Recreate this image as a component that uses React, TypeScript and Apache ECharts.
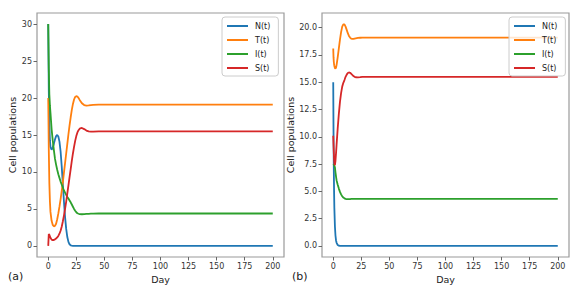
import React, { useEffect, useRef } from "react";
import * as echarts from "echarts";

// Panel (a)
const daysA = [0, 0.5, 1, 1.5, 2, 3, 4, 5, 6, 7, 8, 9, 10, 11, 12, 13, 14, 15, 16, 17, 18, 19, 20, 21, 22, 23, 24, 25, 26, 27, 28, 30, 32, 34, 36, 38, 40, 45, 50, 60, 80, 100, 150, 200];
const nA = [30, 21, 16.5, 14.3, 13.4, 13.0, 13.3, 13.8, 14.4, 14.85, 15.0, 14.8, 14.1, 12.8, 10.8, 8.4, 6.0, 3.9, 2.3, 1.2, 0.55, 0.22, 0.08, 0.03, 0.01, 0, 0, 0, 0, 0, 0, 0, 0, 0, 0, 0, 0, 0, 0, 0, 0, 0, 0, 0];
const tA = [20, 13, 8.5, 6, 4.6, 3.4, 2.85, 2.65, 2.7, 3.0, 3.6, 4.4, 5.3, 6.3, 7.4, 8.6, 9.9, 11.2, 12.5, 13.8, 15.1, 16.3, 17.4, 18.4, 19.2, 19.8, 20.15, 20.25, 20.2, 20.0, 19.75, 19.3, 19.05, 18.98, 19.0, 19.05, 19.08, 19.1, 19.1, 19.1, 19.1, 19.1, 19.1, 19.1];
const iA = [30, 24, 20.5, 19, 18, 15.8, 14.3, 13.0, 11.8, 11.0, 10.3, 9.7, 9.2, 8.7, 8.3, 7.9, 7.5, 7.2, 6.9, 6.6, 6.4, 6.15, 5.9, 5.6, 5.3, 5.0, 4.75, 4.55, 4.42, 4.35, 4.3, 4.28, 4.3, 4.32, 4.34, 4.36, 4.37, 4.38, 4.38, 4.38, 4.38, 4.38, 4.38, 4.38];
const sA = [0, 1.6, 1.5, 1.3, 1.1, 0.85, 0.78, 0.8, 0.88, 1.0, 1.15, 1.35, 1.65, 2.05, 2.6, 3.3, 4.1, 5.0, 6.0, 7.1, 8.2, 9.3, 10.4, 11.5, 12.5, 13.4, 14.2, 14.85, 15.35, 15.65, 15.85, 15.95, 15.8, 15.6, 15.48, 15.45, 15.47, 15.5, 15.5, 15.5, 15.5, 15.5, 15.5, 15.5];

// Panel (b)
const daysB = [0, 0.25, 0.5, 0.75, 1, 1.5, 2, 2.5, 3, 4, 5, 6, 7, 8, 9, 10, 11, 12, 13, 14, 15, 16, 17, 18, 19, 20, 22, 24, 26, 28, 30, 35, 40, 50, 75, 100, 150, 200];
const nB = [15, 10.5, 7.2, 5.0, 3.5, 1.8, 0.95, 0.5, 0.28, 0.08, 0.02, 0, 0, 0, 0, 0, 0, 0, 0, 0, 0, 0, 0, 0, 0, 0, 0, 0, 0, 0, 0, 0, 0, 0, 0, 0, 0, 0];
const tB = [18.1, 17.3, 16.9, 16.65, 16.5, 16.3, 16.25, 16.35, 16.6, 17.3, 18.1, 18.9, 19.6, 20.1, 20.3, 20.3, 20.1, 19.8, 19.5, 19.25, 19.1, 19.0, 18.97, 18.97, 19.0, 19.02, 19.06, 19.08, 19.1, 19.1, 19.1, 19.1, 19.1, 19.1, 19.1, 19.1, 19.1, 19.1];
const iB = [7.5, 7.48, 7.45, 7.4, 7.35, 7.2, 6.75, 6.35, 6.0, 5.6, 5.25, 4.95, 4.72, 4.55, 4.43, 4.36, 4.31, 4.29, 4.28, 4.28, 4.29, 4.3, 4.3, 4.3, 4.3, 4.3, 4.3, 4.3, 4.3, 4.3, 4.3, 4.3, 4.3, 4.3, 4.3, 4.3, 4.3, 4.3];
const sB = [10.1, 9.3, 8.6, 8.0, 7.6, 7.4, 7.8, 8.5, 9.3, 10.8, 12.1, 13.2, 14.0, 14.6, 14.95, 15.2, 15.5, 15.7, 15.85, 15.9, 15.87, 15.78, 15.67, 15.57, 15.5, 15.46, 15.45, 15.47, 15.5, 15.5, 15.5, 15.5, 15.5, 15.5, 15.5, 15.5, 15.5, 15.5];

const seriesNames = ["N(t)", "T(t)", "I(t)", "S(t)"];
const colors = ["#1f77b4", "#ff7f0e", "#2ca02c", "#d62728"];
const xTicks = [0, 25, 50, 75, 100, 125, 150, 175, 200];
const yTicksA = [0, 5, 10, 15, 20, 25, 30];
const yTicksB = [0, 2.5, 5, 7.5, 10, 12.5, 15, 17.5, 20];
const panelLabels = ["(a)", "(b)"];

const FONT = "DejaVu Sans";

function pairs(days: number[], vals: number[]) {
  return days.map((d, i) => [d, vals[i]]);
}

export default function App() {
  const ref = useRef<HTMLDivElement>(null);
  useEffect(() => {
    document.body.style.margin = "0";
    const chart = echarts.init(ref.current!, null, { renderer: "svg" });

    const grids = [
      { left: 37, top: 13, width: 247, height: 244 },
      { left: 322, top: 13, width: 247, height: 244 },
    ].map((g) => ({
      ...g,
      show: true,
      borderColor: "#9a9a9a",
      borderWidth: 1.2,
      backgroundColor: "transparent",
    }));

    const tickStyle = { show: true, length: 3.5, lineStyle: { color: "#666", width: 1 } };
    const labelStyle = { fontSize: 8, color: "#333", fontFamily: FONT };

    const xAxes = [0, 1].map((gi) => ({
      type: "value",
      gridIndex: gi,
      min: -10,
      max: 210,
      name: "Day",
      nameLocation: "middle",
      nameGap: 14,
      nameTextStyle: { fontSize: 9.5, color: "#222", fontFamily: FONT },
      axisLine: { show: false, onZero: false },
      axisTick: { ...tickStyle, customValues: xTicks },
      axisLabel: { ...labelStyle, margin: 5, customValues: xTicks },
      splitLine: { show: false },
    }));

    const yAxes = [
      {
        type: "value",
        gridIndex: 0,
        min: -1.5,
        max: 31.5,
        name: "Cell populations",
        nameLocation: "middle",
        nameGap: 18,
        nameTextStyle: { fontSize: 9.5, color: "#222", fontFamily: FONT },
        axisLine: { show: false, onZero: false },
        axisTick: { ...tickStyle, customValues: yTicksA },
        axisLabel: { ...labelStyle, margin: 5, customValues: yTicksA, formatter: (v: number) => String(v) },
        splitLine: { show: false },
      },
      {
        type: "value",
        gridIndex: 1,
        min: -1.02,
        max: 21.35,
        name: "Cell populations",
        nameLocation: "middle",
        nameGap: 23,
        nameTextStyle: { fontSize: 9.5, color: "#222", fontFamily: FONT },
        axisLine: { show: false, onZero: false },
        axisTick: { ...tickStyle, customValues: yTicksB },
        axisLabel: { ...labelStyle, margin: 5, customValues: yTicksB, formatter: (v: number) => v.toFixed(1) },
        splitLine: { show: false },
      },
    ];

    const dataA = [nA, tA, iA, sA];
    const dataB = [nB, tB, iB, sB];
    const series: any[] = [];
    [dataA, dataB].forEach((set, gi) => {
      const days = gi === 0 ? daysA : daysB;
      set.forEach((vals, k) => {
        series.push({
          type: "line",
          name: seriesNames[k],
          xAxisIndex: gi,
          yAxisIndex: gi,
          data: pairs(days, vals),
          showSymbol: false,
          symbol: "none",
          lineStyle: { color: colors[k], width: 1.8 },
          itemStyle: { color: colors[k] },
          z: 2 + k * 0.01,
        });
      });
    });

    const legendBase = {
      orient: "vertical",
      top: 17,
      padding: [2, 8, 1, 5],
      itemGap: 0,
      itemWidth: 21,
      itemHeight: 2,
      icon: "rect",
      data: seriesNames,
      textStyle: { fontSize: 8, color: "#222", lineHeight: 14, fontFamily: FONT, padding: [0, 0, 0, 2] },
      backgroundColor: "rgba(255,255,255,0.8)",
      borderColor: "#cccccc",
      borderWidth: 1,
      borderRadius: 3,
      selectedMode: false,
    };

    chart.setOption({
      animation: false,
      color: colors,
      textStyle: { fontFamily: FONT },
      grid: grids,
      xAxis: xAxes,
      yAxis: yAxes,
      legend: [
        { ...legendBase, left: 222 },
        { ...legendBase, left: 509 },
      ],
      graphic: [
        { type: "text", left: 8, top: 271, style: { text: panelLabels[0], fontSize: 11, fill: "#222", fontFamily: FONT } },
        { type: "text", left: 292, top: 271, style: { text: panelLabels[1], fontSize: 11, fill: "#222", fontFamily: FONT } },
      ],
      series,
    });
    return () => chart.dispose();
  }, []);
  return <div ref={ref} style={{ width: 581, height: 292 }} />;
}
